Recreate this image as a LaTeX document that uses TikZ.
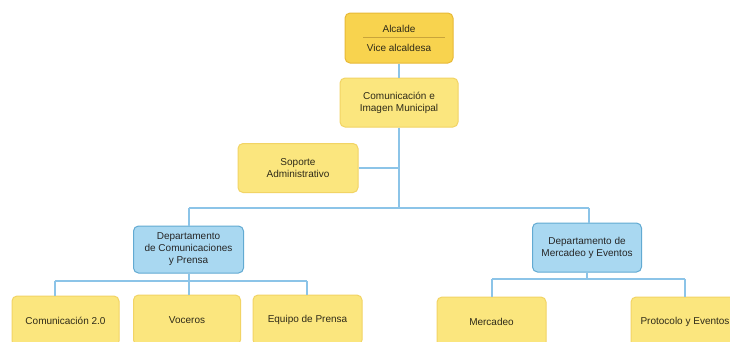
\documentclass[tikz,border=0pt]{standalone}
\usepackage{fontspec}
\setmainfont{Liberation Sans}
\definecolor{yfill}{HTML}{FBE67E}
\definecolor{yborder}{HTML}{F2D465}
\definecolor{gfill}{HTML}{F8D34E}
\definecolor{gborder}{HTML}{E8B936}
\definecolor{gline}{HTML}{C9A43A}
\definecolor{bfill}{HTML}{A9D8F1}
\definecolor{bborder}{HTML}{62AAD2}
\definecolor{conn}{HTML}{8CC4E8}
\definecolor{txt}{HTML}{2E2A18}
\tikzset{
  box/.style={rounded corners=5pt, line width=1pt, align=center, inner sep=0pt,
    font=\fontsize{10}{12}\selectfont, text=txt, minimum height=50pt},
  ybox/.style={box, fill=yfill, draw=yborder},
  gbox/.style={box, fill=gfill, draw=gborder},
  bbox/.style={box, fill=bfill, draw=bborder, text=black!85},
  link/.style={draw=conn, line width=1.4pt},
  lbl/.style={font=\fontsize{10}{12}\selectfont, text=txt, inner sep=0pt}
}
\begin{document}
\begin{tikzpicture}[x=1pt,y=-1pt]
\useasboundingbox (0,0) rectangle (730,341);
\clip (0,0) rectangle (730,341);
\fill[white] (0,0) rectangle (730,341);
\node[gbox, minimum width=108pt] (alc) at (399,38) {};
\node[ybox, minimum width=118pt, minimum height=49pt] (com) at (399,102.5) {Comunicación e\\Imagen Municipal};
\node[ybox, minimum width=120pt, minimum height=49pt] (sop) at (298,168) {Soporte\\Administrativo};
\node[bbox, minimum width=110pt, minimum height=47pt] (dc) at (188.5,249.5) {Departamento\\de Comunicaciones\\y Prensa};
\node[bbox, minimum width=109pt, minimum height=49pt] (dm) at (587,247.5) {Departamento de\\Mercadeo y Eventos};
\node[ybox, minimum width=107pt] (c20) at (65.5,321) {Comunicación 2.0};
\node[ybox, minimum width=107pt] (voc) at (187,320) {Voceros};
\node[ybox, minimum width=109pt] (eq) at (307.5,320) {Equipo de Prensa};
\node[ybox, minimum width=109pt] (mer) at (491.5,322) {Mercadeo};
\node[ybox, minimum width=108pt] (pro) at (685,322) {Protocolo y Eventos};
\node[lbl] (alct) at (399,29) {Alcalde};
\node[lbl] (vice) at (399,48) {Vice alcaldesa};
\coordinate (d1) at (363,37);
\coordinate (d2) at (445,37);
\draw[gline, line width=0.8pt] (d1) -- (d2);
\coordinate (bus) at (399,208);
\coordinate (bl) at (189,208);
\coordinate (br) at (589,208);
\coordinate (cb) at (189,281);
\coordinate (cbl) at (55,281);
\coordinate (cbr) at (307,281);
\coordinate (mb) at (587,279);
\coordinate (mbl) at (492,279);
\coordinate (mbr) at (685,279);
\draw[link] (alc.south) -- (com.north);
\draw[link] (com.south) -- (bus);
\draw[link] (sop.east) -- (sop.east -| com.south);
\draw[link] (bl) -- (br);
\draw[link] (bl) -- (bl |- dc.north);
\draw[link] (br) -- (br |- dm.north);
\draw[link] (dc.south -| cb) -- (cb);
\draw[link] (cbl) -- (cbr);
\draw[link] (cbl) -- (cbl |- c20.north);
\draw[link] (cb) -- (cb |- voc.north);
\draw[link] (cbr) -- (cbr |- eq.north);
\draw[link] (dm.south) -- (mb);
\draw[link] (mbl) -- (mbr);
\draw[link] (mbl) -- (mbl |- mer.north);
\draw[link] (mbr) -- (mbr |- pro.north);
\end{tikzpicture}
\end{document}
